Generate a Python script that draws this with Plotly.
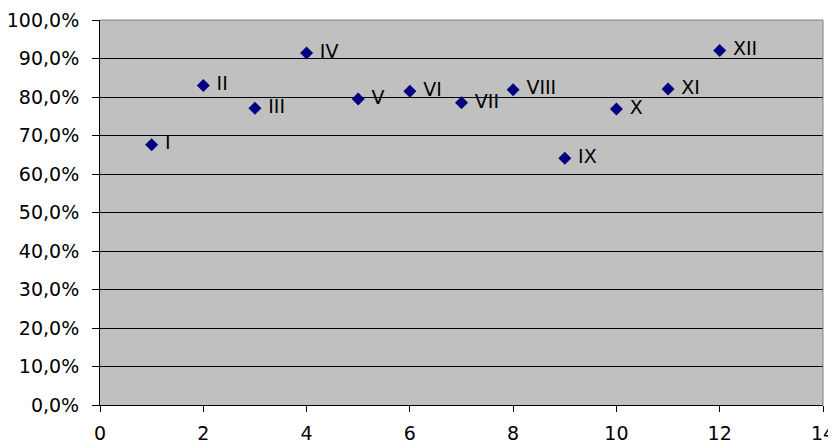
import plotly.graph_objects as go

months = [1, 2, 3, 4, 5, 6, 7, 8, 9, 10, 11, 12]
labels = ["I", "II", "III", "IV", "V", "VI", "VII", "VIII", "IX", "X", "XI", "XII"]
values = [0.676, 0.830, 0.771, 0.914, 0.795, 0.815, 0.785, 0.819, 0.641, 0.769, 0.821, 0.921]

x_ticks = [0, 2, 4, 6, 8, 10, 12, 14]
y_ticks = [0.0, 0.1, 0.2, 0.3, 0.4, 0.5, 0.6, 0.7, 0.8, 0.9, 1.0]

font = "DejaVu Sans, Verdana, sans-serif"

fig = go.Figure()
fig.add_trace(go.Scatter(
    x=months, y=values,
    mode="markers+text",
    text=[" " + t for t in labels],
    textposition="middle right",
    textfont=dict(family=font, size=19, color="black"),
    marker=dict(symbol="diamond", size=10, color="#000080", line=dict(width=0)),
    cliponaxis=False,
    showlegend=False,
))

# the page body adds an 8px offset, so the figure is sized to fit the window
fig.update_layout(
    width=828, height=435,
    margin=dict(l=92, r=13, t=12, b=38),
    paper_bgcolor="white",
    plot_bgcolor="#C0C0C0",
    separators=", ",
    font=dict(family=font, size=19, color="black"),
    xaxis=dict(
        range=[0, 14], tickvals=x_ticks, ticktext=[str(v) for v in x_ticks],
        showgrid=False, zeroline=False, automargin=False,
        showline=True, linecolor="black", linewidth=1,
        ticks="outside", ticklen=6, tickcolor="black",
        ticklabelstandoff=5,
        tickfont=dict(family=font, size=19, color="black"),
    ),
    yaxis=dict(
        range=[0, 1], tickvals=y_ticks, tickformat=".1%",
        showgrid=True, gridcolor="black", gridwidth=1,
        zeroline=False, automargin=False,
        showline=True, linecolor="black", linewidth=1,
        ticks="outside", ticklen=7, tickcolor="black",
        ticklabelstandoff=9,
        tickfont=dict(family=font, size=19, color="black"),
    ),
    shapes=[
        dict(type="line", xref="paper", yref="paper", x0=0, x1=1, y0=1, y1=1,
             line=dict(color="#808080", width=1)),
        dict(type="line", xref="paper", yref="paper", x0=1, x1=1, y0=0, y1=1,
             line=dict(color="#808080", width=1)),
    ],
)

fig.write_html("out.html")
